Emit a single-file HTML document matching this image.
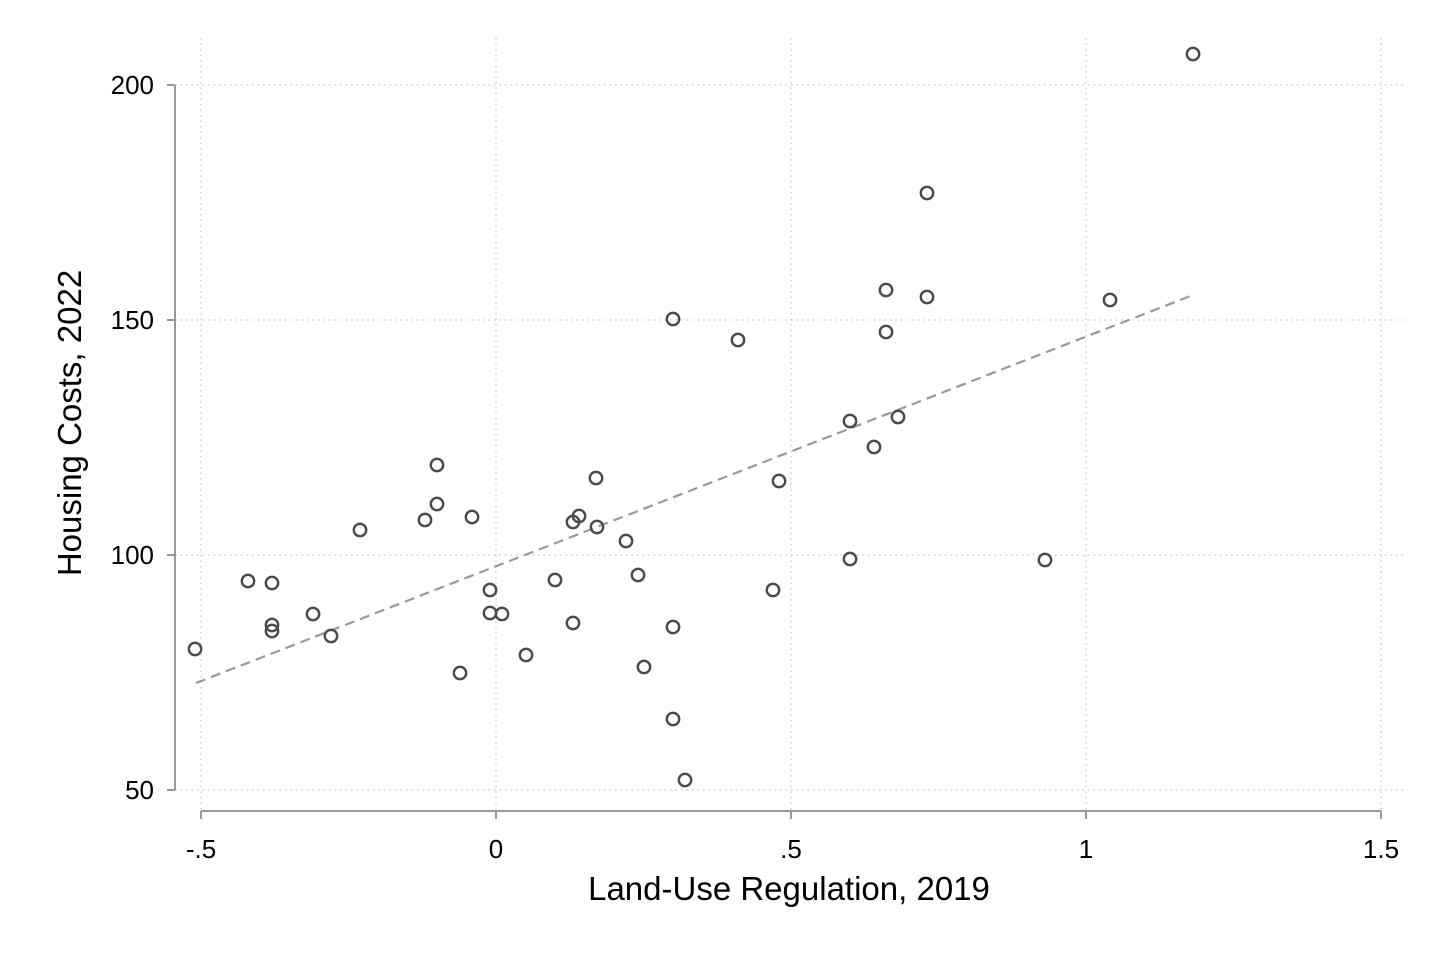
<!DOCTYPE html>
<html><head><meta charset="utf-8"><style>
html,body{margin:0;padding:0;background:#fff;}
svg{display:block;font-family:"Liberation Sans",Arial,sans-serif;}
</style></head><body>
<svg width="1437" height="958" viewBox="0 0 1437 958" xmlns="http://www.w3.org/2000/svg">
<rect width="1437" height="958" fill="#fff"/>
<g stroke="#cfcfcf" stroke-width="1.5" stroke-dasharray="1.5,4">
<line x1="175" y1="85" x2="1405" y2="85"/>
<line x1="175" y1="320" x2="1405" y2="320"/>
<line x1="175" y1="555" x2="1405" y2="555"/>
<line x1="175" y1="790" x2="1405" y2="790"/>
<line x1="201" y1="38" x2="201" y2="811"/>
<line x1="496" y1="38" x2="496" y2="811"/>
<line x1="791" y1="38" x2="791" y2="811"/>
<line x1="1086" y1="38" x2="1086" y2="811"/>
<line x1="1381" y1="38" x2="1381" y2="811"/>
</g>
<g stroke="#999" stroke-width="2" fill="none">
<line x1="175" y1="85" x2="175" y2="790"/>
<line x1="167" y1="85" x2="175" y2="85"/>
<line x1="167" y1="320" x2="175" y2="320"/>
<line x1="167" y1="555" x2="175" y2="555"/>
<line x1="167" y1="790" x2="175" y2="790"/>
<line x1="201" y1="811" x2="1381" y2="811"/>
<line x1="201" y1="811" x2="201" y2="819"/>
<line x1="496" y1="811" x2="496" y2="819"/>
<line x1="791" y1="811" x2="791" y2="819"/>
<line x1="1086" y1="811" x2="1086" y2="819"/>
<line x1="1381" y1="811" x2="1381" y2="819"/>
</g>
<g font-size="26" fill="#000" text-anchor="end">
<text x="154" y="94">200</text>
<text x="154" y="329">150</text>
<text x="154" y="564">100</text>
<text x="154" y="799">50</text>
</g>
<g font-size="26" fill="#000" text-anchor="middle">
<text x="201" y="858">-.5</text>
<text x="496" y="858">0</text>
<text x="791" y="858">.5</text>
<text x="1086" y="858">1</text>
<text x="1381" y="858">1.5</text>
</g>
<text x="789" y="900" font-size="33" text-anchor="middle">Land-Use Regulation, 2019</text>
<text transform="translate(81,423) rotate(-90)" font-size="33" text-anchor="middle">Housing Costs, 2022</text>
<line x1="196" y1="683" x2="1193" y2="295" stroke="#999" stroke-width="2.2" stroke-dasharray="10,6"/>
<g fill="none" stroke="#4a4a4a" stroke-width="2.4">
<circle cx="195" cy="649" r="6.2"/><circle cx="248" cy="581" r="6.2"/><circle cx="272" cy="583" r="6.2"/>
<circle cx="272" cy="625" r="6.2"/><circle cx="272" cy="631" r="6.2"/><circle cx="313" cy="614" r="6.2"/>
<circle cx="331" cy="636" r="6.2"/><circle cx="360" cy="530" r="6.2"/><circle cx="425" cy="520" r="6.2"/>
<circle cx="437" cy="465" r="6.2"/><circle cx="437" cy="504" r="6.2"/><circle cx="460" cy="673" r="6.2"/>
<circle cx="472" cy="517" r="6.2"/><circle cx="490" cy="590" r="6.2"/><circle cx="490" cy="613" r="6.2"/>
<circle cx="502" cy="614" r="6.2"/><circle cx="526" cy="655" r="6.2"/><circle cx="555" cy="580" r="6.2"/>
<circle cx="573" cy="623" r="6.2"/><circle cx="573" cy="522" r="6.2"/><circle cx="579" cy="516" r="6.2"/>
<circle cx="596" cy="478" r="6.2"/><circle cx="597" cy="527" r="6.2"/><circle cx="626" cy="541" r="6.2"/>
<circle cx="638" cy="575" r="6.2"/><circle cx="644" cy="667" r="6.2"/><circle cx="673" cy="319" r="6.2"/>
<circle cx="673" cy="627" r="6.2"/><circle cx="673" cy="719" r="6.2"/><circle cx="685" cy="780" r="6.2"/>
<circle cx="738" cy="340" r="6.2"/><circle cx="773" cy="590" r="6.2"/><circle cx="779" cy="481" r="6.2"/>
<circle cx="850" cy="421" r="6.2"/><circle cx="850" cy="559" r="6.2"/><circle cx="874" cy="447" r="6.2"/>
<circle cx="886" cy="290" r="6.2"/><circle cx="886" cy="332" r="6.2"/><circle cx="898" cy="417" r="6.2"/>
<circle cx="927" cy="193" r="6.2"/><circle cx="927" cy="297" r="6.2"/><circle cx="1045" cy="560" r="6.2"/>
<circle cx="1110" cy="300" r="6.2"/><circle cx="1193" cy="54" r="6.2"/>
</g>
</svg>
</body></html>
